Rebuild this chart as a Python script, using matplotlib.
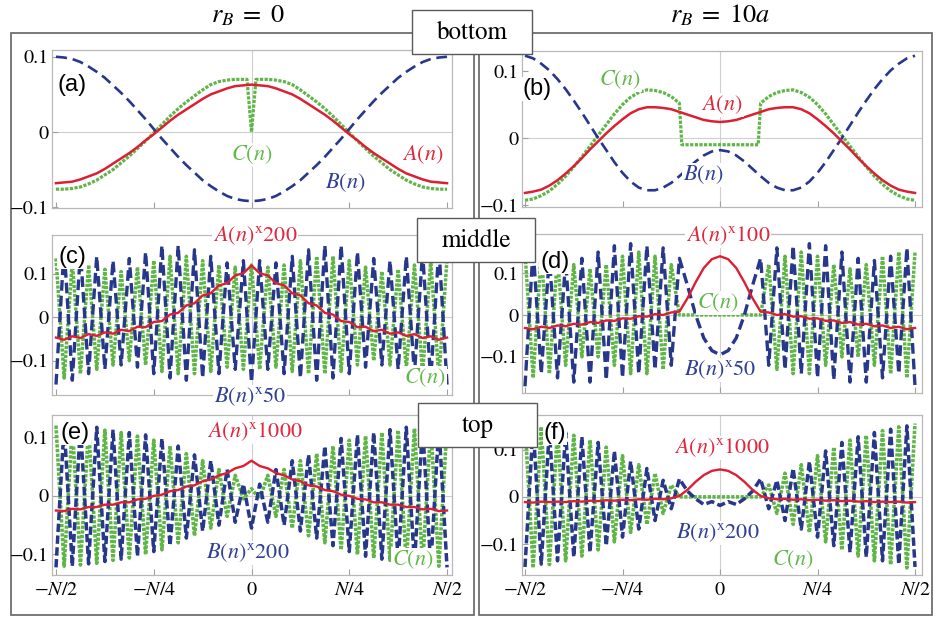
import matplotlib
matplotlib.use('Agg')
import matplotlib.pyplot as plt
from matplotlib.patches import Rectangle

plt.rcParams['mathtext.fontset'] = 'stix'
plt.rcParams['font.family'] = ['STIXGeneral', 'DejaVu Serif']

W, H = 937, 622

# ---------------- data ----------------
n = list(range(-24, 25))           # site index, N = 48  (N/2 = 24)
x_ticks = [-24, -12, 0, 12, 24]
x_tick_labels = [r'$-N/2$', r'$-N/4$', '0', r'$N/4$', r'$N/2$']
y_ticks = [-0.1, 0, 0.1]
y_tick_labels = ['\u22120.1', '0', '0.1']

# (a) r_B = 0, bottom
A_a = [-0.068, -0.067, -0.066, -0.063, -0.059, -0.055, -0.049, -0.042, -0.035, -0.028, -0.020, -0.011,
       -0.003, 0.006, 0.015, 0.023, 0.030, 0.037, 0.044, 0.050, 0.054, 0.058, 0.061, 0.062,
       0.063,
       0.062, 0.061, 0.058, 0.054, 0.050, 0.044, 0.037, 0.030, 0.023, 0.015, 0.006, -0.003,
       -0.011, -0.020, -0.028, -0.035, -0.042, -0.049, -0.055, -0.059, -0.063, -0.066, -0.067, -0.068]
B_a = [0.100, 0.099, 0.097, 0.093, 0.087, 0.080, 0.072, 0.062, 0.052, 0.041, 0.029, 0.017,
       0.004, -0.009, -0.021, -0.033, -0.044, -0.054, -0.064, -0.072, -0.079, -0.085, -0.089, -0.091,
       -0.092,
       -0.091, -0.089, -0.085, -0.079, -0.072, -0.064, -0.054, -0.044, -0.033, -0.021, -0.009, 0.004,
       0.017, 0.029, 0.041, 0.052, 0.062, 0.072, 0.080, 0.087, 0.093, 0.097, 0.099, 0.100]
C_a_n = list(range(-24, 0)) + [-0.55, 0, 0.55] + list(range(1, 25))
C_a = [-0.076, -0.076, -0.075, -0.073, -0.069, -0.064, -0.057, -0.050, -0.041, -0.032, -0.022, -0.012,
       -0.001, 0.010, 0.021, 0.031, 0.040, 0.048, 0.056, 0.063, 0.067, 0.069, 0.070, 0.070,
       0.070, 0.0, 0.070,
       0.070, 0.070, 0.069, 0.067, 0.063, 0.056, 0.048, 0.040, 0.031, 0.021, 0.010, -0.001,
       -0.012, -0.022, -0.032, -0.041, -0.050, -0.057, -0.064, -0.069, -0.073, -0.075, -0.076, -0.076]

# (b) r_B = 10a, bottom
A_b = [-0.082, -0.080, -0.077, -0.071, -0.063, -0.053, -0.042, -0.030, -0.017, -0.005, 0.007, 0.018,
       0.028, 0.037, 0.043, 0.046, 0.046, 0.045, 0.043, 0.039, 0.035, 0.031, 0.027, 0.025,
       0.024,
       0.025, 0.027, 0.031, 0.035, 0.039, 0.043, 0.045, 0.046, 0.046, 0.043, 0.037, 0.028,
       0.018, 0.007, -0.005, -0.017, -0.030, -0.042, -0.053, -0.063, -0.071, -0.077, -0.080, -0.082]
B_b = [0.123, 0.119, 0.111, 0.101, 0.088, 0.073, 0.056, 0.038, 0.019, 0.000, -0.018, -0.036,
       -0.052, -0.065, -0.074, -0.078, -0.078, -0.074, -0.067, -0.057, -0.046, -0.035, -0.026, -0.020,
       -0.018,
       -0.020, -0.026, -0.035, -0.046, -0.057, -0.067, -0.074, -0.078, -0.078, -0.074, -0.065, -0.052,
       -0.036, -0.018, 0.000, 0.019, 0.038, 0.056, 0.073, 0.088, 0.101, 0.111, 0.119, 0.123]
C_b_n = list(range(-24, -4)) + [-4.7] + list(range(-4, 5)) + [4.7] + list(range(5, 25))
C_b = [-0.093, -0.091, -0.086, -0.079, -0.069, -0.057, -0.043, -0.028, -0.012, 0.004, 0.020, 0.036,
       0.050, 0.061, 0.068, 0.072, 0.071, 0.068, 0.062, 0.052,
       -0.010,
       -0.010, -0.010, -0.010, -0.010, -0.010, -0.010, -0.010, -0.010, -0.010,
       -0.010,
       0.052, 0.062, 0.068, 0.071, 0.072, 0.068, 0.061, 0.050, 0.036, 0.020, 0.004, -0.012,
       -0.028, -0.043, -0.057, -0.069, -0.079, -0.086, -0.091, -0.093]

# (c) r_B = 0, middle  (A x200, B x50)
A_c = [-0.047, -0.052, -0.044, -0.048, -0.039, -0.043, -0.035, -0.038, -0.029, -0.032, -0.022, -0.023,
       -0.011, -0.009, 0.006, 0.010, 0.027, 0.032, 0.050, 0.055, 0.073, 0.078, 0.096, 0.101,
       0.119,
       0.101, 0.096, 0.078, 0.073, 0.055, 0.050, 0.032, 0.027, 0.010, 0.006, -0.009, -0.011,
       -0.023, -0.022, -0.032, -0.029, -0.038, -0.035, -0.043, -0.039, -0.048, -0.044, -0.052, -0.047]
B_c = [-0.155, 0.160, -0.145, 0.150, -0.130, 0.140, -0.120, 0.130, -0.110, 0.135, -0.115, 0.150,
       -0.130, 0.165, -0.140, 0.165, -0.145, 0.155, -0.140, 0.140, -0.130, 0.125, -0.120, 0.130,
       -0.150,
       0.130, -0.120, 0.125, -0.130, 0.140, -0.140, 0.155, -0.145, 0.165, -0.140, 0.165, -0.130,
       0.150, -0.115, 0.135, -0.110, 0.130, -0.120, 0.140, -0.130, 0.150, -0.145, 0.160, -0.155]
C_c = [0.135, -0.140, 0.130, -0.130, 0.120, -0.120, 0.110, -0.110, 0.105, -0.100, 0.115, -0.110,
       0.130, -0.125, 0.140, -0.130, 0.140, -0.130, 0.130, -0.125, 0.120, -0.115, 0.115, -0.120,
       0.120,
       -0.120, 0.115, -0.115, 0.120, -0.125, 0.130, -0.130, 0.140, -0.130, 0.140, -0.125, 0.130,
       -0.110, 0.115, -0.100, 0.105, -0.110, 0.110, -0.120, 0.120, -0.130, 0.130, -0.140, 0.135]

# (d) r_B = 10a, middle  (A x100, B x50)
A_d = [-0.031, -0.034, -0.028, -0.031, -0.025, -0.027, -0.021, -0.023, -0.017, -0.019, -0.013, -0.014,
       -0.008, -0.009, -0.003, -0.004, 0.002, 0.000, 0.006, 0.008, 0.040, 0.078, 0.112, 0.133,
       0.140,
       0.133, 0.112, 0.078, 0.040, 0.008, 0.006, 0.000, 0.002, -0.004, -0.003, -0.009, -0.008,
       -0.014, -0.013, -0.019, -0.017, -0.023, -0.021, -0.027, -0.025, -0.031, -0.028, -0.034, -0.031]
B_d = [-0.170, 0.160, -0.140, 0.140, -0.150, 0.130, -0.160, 0.135, -0.160, 0.150, -0.155, 0.165,
       -0.150, 0.170, -0.140, 0.165, -0.130, 0.160, -0.120, 0.135, 0.070, 0.000, -0.055, -0.085,
       -0.095,
       -0.085, -0.055, 0.000, 0.070, 0.135, -0.120, 0.160, -0.130, 0.165, -0.140, 0.170, -0.150,
       0.165, -0.155, 0.150, -0.160, 0.135, -0.160, 0.130, -0.150, 0.140, -0.140, 0.160, -0.170]
C_d = [0.150, -0.150, 0.150, -0.140, 0.140, -0.120, 0.120, -0.100, 0.110, -0.100, 0.120, -0.120,
       0.140, -0.140, 0.150, -0.140, 0.140, -0.130, 0.120, 0.000, 0.000, 0.000, 0.000, 0.000,
       0.000,
       0.000, 0.000, 0.000, 0.000, 0.000, 0.120, -0.130, 0.140, -0.140, 0.150, -0.140, 0.140,
       -0.120, 0.120, -0.100, 0.110, -0.100, 0.120, -0.120, 0.140, -0.140, 0.150, -0.150, 0.150]

# (e) r_B = 0, top  (A x1000, B x200)
A_e = [-0.025, -0.026, -0.022, -0.023, -0.019, -0.019, -0.015, -0.015, -0.011, -0.011, -0.006, -0.005,
       0.000, 0.002, 0.008, 0.010, 0.016, 0.018, 0.025, 0.028, 0.035, 0.039, 0.047, 0.051,
       0.060,
       0.051, 0.047, 0.039, 0.035, 0.028, 0.025, 0.018, 0.016, 0.010, 0.008, 0.002, 0.000,
       -0.005, -0.006, -0.011, -0.011, -0.015, -0.015, -0.019, -0.019, -0.023, -0.022, -0.026, -0.025]
B_e = [-0.122, 0.120, -0.120, 0.119, -0.116, 0.117, -0.112, 0.113, -0.108, 0.108, -0.103, 0.104,
       -0.095, 0.098, -0.085, 0.085, -0.072, 0.070, -0.060, 0.060, -0.050, 0.045, -0.045, 0.020,
       -0.055,
       0.020, -0.045, 0.045, -0.050, 0.060, -0.060, 0.070, -0.072, 0.085, -0.085, 0.098, -0.095,
       0.104, -0.103, 0.108, -0.108, 0.113, -0.112, 0.117, -0.116, 0.119, -0.120, 0.120, -0.122]
C_e = [0.120, -0.120, 0.118, -0.118, 0.115, -0.115, 0.112, -0.110, 0.108, -0.106, 0.102, -0.100,
       0.095, -0.092, 0.085, -0.080, 0.072, -0.068, 0.060, -0.055, 0.045, -0.035, 0.035, -0.005,
       0.012,
       -0.005, 0.035, -0.035, 0.045, -0.055, 0.060, -0.068, 0.072, -0.080, 0.085, -0.092, 0.095,
       -0.100, 0.102, -0.106, 0.108, -0.110, 0.112, -0.115, 0.115, -0.118, 0.118, -0.120, 0.120]

# (f) r_B = 10a, top  (A x1000, B x200)
A_f = [-0.011, -0.012, -0.010, -0.011, -0.010, -0.011, -0.009, -0.010, -0.008, -0.009, -0.007, -0.008,
       -0.006, -0.007, -0.005, -0.006, -0.004, -0.005, -0.003, 0.002, 0.015, 0.032, 0.046, 0.055,
       0.058,
       0.055, 0.046, 0.032, 0.015, 0.002, -0.003, -0.005, -0.004, -0.006, -0.005, -0.007, -0.006,
       -0.008, -0.007, -0.009, -0.008, -0.010, -0.009, -0.011, -0.010, -0.011, -0.010, -0.012, -0.011]
B_f = [-0.148, 0.150, -0.142, 0.143, -0.135, 0.136, -0.127, 0.127, -0.117, 0.115, -0.103, 0.097,
       -0.085, 0.075, -0.068, 0.060, -0.050, 0.035, -0.025, 0.038, 0.012, -0.004, -0.016, -0.010,
       -0.018,
       -0.010, -0.016, -0.004, 0.012, 0.038, -0.025, 0.035, -0.050, 0.060, -0.068, 0.075, -0.085,
       0.097, -0.103, 0.115, -0.117, 0.127, -0.127, 0.136, -0.135, 0.143, -0.142, 0.150, -0.148]
C_f = [0.155, -0.150, 0.148, -0.143, 0.140, -0.135, 0.130, -0.125, 0.120, -0.112, 0.105, -0.095,
       0.087, -0.075, 0.068, -0.058, 0.050, -0.035, 0.025, 0.000, 0.000, 0.000, 0.000, 0.000,
       0.000,
       0.000, 0.000, 0.000, 0.000, 0.000, 0.025, -0.035, 0.050, -0.058, 0.068, -0.075, 0.087,
       -0.095, 0.105, -0.112, 0.120, -0.125, 0.130, -0.135, 0.140, -0.143, 0.148, -0.150, 0.155]

titles = [r'$r_B\;=\;0$', r'$r_B\;=\;10a$']
row_labels = ['bottom', 'middle', 'top']
panel_letters = ['(a)', '(b)', '(c)', '(d)', '(e)', '(f)']

# ---------------- styles ----------------
RED = '#dc1f33'
BLUE = '#26378c'
GREEN = '#5fb646'
RED_T = '#e0283c'
BLUE_T = '#2f3f94'
GREEN_T = '#62b84a'

# per-row line styles: (red lw, blue lw, blue dashes, green lw, green dashes)
row_style = {
    'ab': (1.8, 1.9, (4.2, 2.2), 2.3, (1.0, 0.45)),
    'cd': (1.7, 2.4, (3.2, 1.5), 2.5, (0.9, 0.4)),
    'ef': (1.7, 2.5, (2.4, 1.0), 2.6, (0.9, 0.4)),
}


def frac(x0, y0, x1, y1):
    return [x0 / W, 1 - y1 / H, (x1 - x0) / W, (y1 - y0) / H]


fig = plt.figure(figsize=(W / 100, H / 100), dpi=100)
fig.patch.set_facecolor('white')

# background layer (outer frames, titles)
bg = fig.add_axes([0, 0, 1, 1], zorder=-5)
bg.set_xlim(0, W)
bg.set_ylim(H, 0)
bg.axis('off')
for (x0, y0, x1, y1) in [(11, 33, 474, 615), (479, 33, 932, 615)]:
    bg.add_patch(Rectangle((x0, y0), x1 - x0, y1 - y0, fill=False, ec='#6e6e6e', lw=1.3))
bg.text(248, 16, titles[0], ha='center', va='center', fontsize=19)
bg.text(720, 16, titles[1], ha='center', va='center', fontsize=19)

rects = {
    'a': (52, 50, 452, 208), 'b': (522, 51, 922, 207),
    'c': (52, 235, 452, 395), 'd': (522, 234, 922, 393),
    'e': (52, 415, 452, 575), 'f': (522, 415, 922, 575),
}
ylims = {
    'a': (-0.101, 0.109), 'b': (-0.103, 0.130),
    'c': (-0.179, 0.189), 'd': (-0.186, 0.193),
    'e': (-0.135, 0.138), 'f': (-0.165, 0.173),
}
xlim_left = (-24.49, 24.61)
xlim_right = (-24.37, 24.86)

series = {
    'a': ((n, A_a), (n, B_a), (C_a_n, C_a)),
    'b': ((n, A_b), (n, B_b), (C_b_n, C_b)),
    'c': ((n, A_c), (n, B_c), (n, C_c)),
    'd': ((n, A_d), (n, B_d), (n, C_d)),
    'e': ((n, A_e), (n, B_e), (n, C_e)),
    'f': ((n, A_f), (n, B_f), (n, C_f)),
}

for key in 'abcdef':
    ax = fig.add_axes(frac(*rects[key]))
    ax.set_facecolor('white')
    right = key in 'bdf'
    style = row_style['ab' if key in 'ab' else ('cd' if key in 'cd' else 'ef')]
    ax.set_xlim(*(xlim_right if right else xlim_left))
    ax.set_ylim(*ylims[key])
    ax.axhline(0, color='#cfcfcf', lw=0.8, zorder=0)
    ax.axvline(0, color='#cfcfcf', lw=0.8, zorder=0)
    (xa, ya), (xb, yb), (xc, yc) = series[key]
    ax.plot(xc, yc, color=GREEN, lw=style[3], dashes=style[4],
            dash_capstyle='butt', zorder=2)
    ax.plot(xb, yb, color=BLUE, lw=style[1], dashes=style[2], dash_capstyle='butt', zorder=3)
    ax.plot(xa, ya, color=RED, lw=style[0], zorder=4)
    for s in ax.spines.values():
        s.set_color('#b8b8b8')
        s.set_linewidth(0.9)
    ax.set_xticks(x_ticks)
    ax.set_yticks(y_ticks)
    ax.set_yticklabels(y_tick_labels)
    if key in 'ef':
        ax.set_xticklabels(x_tick_labels)
    else:
        ax.set_xticklabels([''] * len(x_ticks))
    ax.tick_params(direction='in', length=4, width=0.8, color='#a0a0a0',
                   labelsize=14.5, pad=2.5)
    ax.tick_params(axis='x', pad=5)

# overlay layer (labels, row boxes)
ov = fig.add_axes([0, 0, 1, 1], zorder=20)
ov.set_xlim(0, W)
ov.set_ylim(H, 0)
ov.axis('off')
ov.patch.set_alpha(0)

wb = dict(boxstyle='square,pad=0.05', fc='white', ec='none')
letter_pos = [(72, 85), (537, 89), (72, 257), (555, 262), (75, 433), (555, 433)]
for (px, py), lab in zip(letter_pos, panel_letters):
    ov.text(px, py, lab, ha='center', va='center', fontsize=17,
            family=['Liberation Sans', 'DejaVu Sans'], bbox=wb)

ann = [
    (252, 155, r'$C(n)$', GREEN_T), (423, 155, r'$A(n)$', RED_T), (345, 183, r'$B(n)$', BLUE_T),
    (620, 80, r'$C(n)$', GREEN_T), (722, 105, r'$A(n)$', RED_T), (703, 175, r'$B(n)$', BLUE_T),
    (255, 236, r'$A(n)^{\mathrm{x}}200$', RED_T), (250, 397, r'$B(n)^{\mathrm{x}}50$', BLUE_T),
    (425, 378, r'$C(n)$', GREEN_T),
    (728, 236, r'$A(n)^{\mathrm{x}}100$', RED_T), (718, 303, r'$C(n)$', GREEN_T),
    (720, 370, r'$B(n)^{\mathrm{x}}50$', BLUE_T),
    (255, 432, r'$A(n)^{\mathrm{x}}1000$', RED_T), (248, 553, r'$B(n)^{\mathrm{x}}200$', BLUE_T),
    (413, 560, r'$C(n)$', GREEN_T),
    (722, 448, r'$A(n)^{\mathrm{x}}1000$', RED_T), (718, 533, r'$B(n)^{\mathrm{x}}200$', BLUE_T),
    (793, 560, r'$C(n)$', GREEN_T),
]
for px, py, s, c in ann:
    ov.text(px, py, s, ha='center', va='center', fontsize=16, color=c, bbox=wb)

boxes = [(412, 10, 532, 54), (417, 218, 535, 262), (418, 403, 537, 447)]
for (x0, y0, x1, y1), lab in zip(boxes, row_labels):
    ov.add_patch(Rectangle((x0, y0), x1 - x0, y1 - y0, fc='white', ec='#5a5a5a', lw=1.0))
    ov.text((x0 + x1) / 2, (y0 + y1) / 2 + 1, lab, ha='center', va='center', fontsize=18)

fig.savefig('out.png', dpi=100, facecolor='white')
